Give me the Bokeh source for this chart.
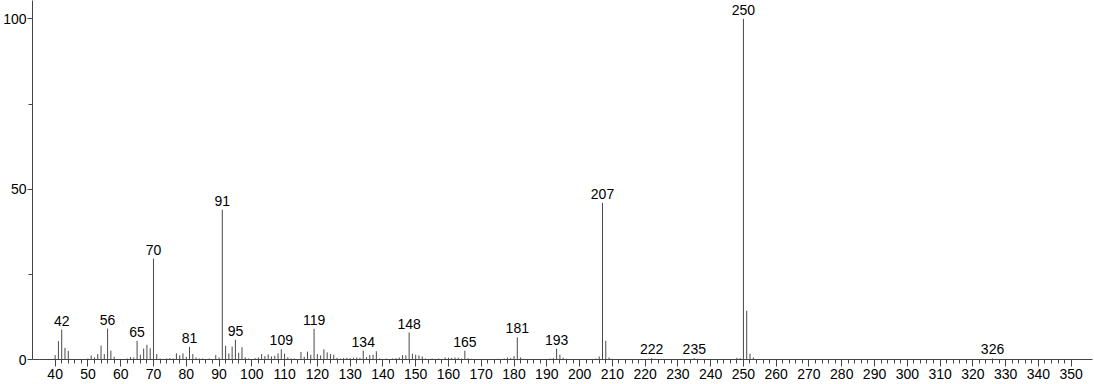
from bokeh.plotting import figure
from bokeh.models import Range1d, FixedTicker, ColumnDataSource
from bokeh.core.properties import value
from bokeh.embed import file_html
from bokeh.resources import INLINE

# m/z values and relative intensities
mz = [40, 41, 42, 43, 44, 50, 51, 52, 53, 54, 55, 56, 57, 58, 62, 63, 64, 65, 66, 67,
      68, 69, 70, 71, 72, 74, 75, 76, 77, 78, 79, 80, 81, 82, 83, 84, 85, 87, 89, 90,
      91, 92, 93, 94, 95, 96, 97, 98, 99, 101, 102, 103, 104, 105, 106, 107, 108, 109, 110, 111,
      112, 113, 115, 116, 117, 118, 119, 120, 121, 122, 123, 124, 125, 126, 127, 128, 129, 130, 131, 132,
      133, 134, 135, 136, 137, 138, 139, 141, 143, 144, 145, 146, 147, 148, 149, 150, 151, 152, 153, 155,
      157, 159, 160, 161, 162, 163, 164, 165, 166, 167, 175, 177, 178, 179, 180, 181, 182, 183, 191, 192,
      193, 194, 195, 196, 205, 206, 207, 208, 209, 210, 221, 222, 223, 235, 236, 248, 249, 250, 251, 252,
      253, 326]
intensity = [1.3, 5.4, 8.8, 3.4, 2.5, 0.3, 1.2, 0.6, 1.6, 4.1, 1.6, 9.1, 2.6, 0.8, 0.3, 0.7, 0.6, 5.5, 1.4, 3.2,
             4.3, 3.3, 29.6, 1.6, 0.3, 0.3, 0.4, 0.3, 1.8, 1.2, 1.8, 0.8, 3.7, 1.6, 0.6, 0.3, 0.3, 0.3, 1.3, 0.6,
             44.0, 4.0, 1.8, 3.8, 5.8, 2.0, 3.6, 0.6, 0.3, 0.4, 0.6, 1.6, 1.0, 1.5, 0.9, 1.1, 1.8, 3.0, 1.7, 0.7,
             0.3, 0.3, 2.2, 0.8, 2.3, 1.4, 9.0, 1.6, 1.2, 3.0, 2.1, 1.6, 1.4, 0.5, 0.3, 0.4, 0.5, 0.4, 0.5, 0.6,
             0.5, 2.6, 0.7, 1.3, 1.4, 2.4, 0.3, 0.3, 0.3, 0.4, 0.6, 1.3, 1.2, 7.9, 1.7, 1.4, 1.2, 0.9, 0.3, 0.3,
             0.3, 0.6, 0.5, 0.5, 0.6, 0.5, 0.3, 2.6, 0.4, 0.2, 0.2, 0.3, 0.6, 0.4, 1.0, 6.5, 0.6, 0.2, 0.3, 0.4,
             3.2, 1.4, 0.5, 0.2, 0.3, 0.9, 46.0, 5.5, 0.6, 0.2, 0.2, 0.4, 0.2, 0.4, 0.2, 0.5, 0.4, 100.0, 14.3, 1.7,
             0.6, 0.3]

# peaks annotated with their m/z
labeled_mz = [42, 56, 65, 70, 81, 91, 95, 109, 119, 134, 148, 165, 181, 193, 207, 222, 235, 250, 326]

x_major_ticks = list(range(40, 351, 10))
x_minor_ticks = list(range(40, 351, 2))
y_major_ticks = [0, 50, 100]
y_minor_ticks = [25, 75]

lookup = dict(zip(mz, intensity))
peaks = ColumnDataSource(dict(x=mz, y0=[0] * len(mz), y1=intensity))
labels = ColumnDataSource(dict(x=labeled_mz,
                               y=[lookup[m] for m in labeled_mz],
                               t=[str(m) for m in labeled_mz]))

p = figure(width=1094, height=384, output_backend="svg", toolbar_location=None,
           x_range=Range1d(33.09, 356.5), y_range=Range1d(0, 105.4),
           min_border_left=30, min_border_right=2, min_border_top=0, min_border_bottom=25)
p.outline_line_color = None
p.xgrid.visible = False
p.ygrid.visible = False
p.background_fill_color = "white"
p.border_fill_color = "white"

p.segment(x0="x", y0="y0", x1="x", y1="y1", source=peaks, line_color="#4a4a4a", line_width=1)
p.text(x="x", y="y", text="t", source=labels, text_align="center", text_baseline="bottom",
       text_font=value("Liberation Sans"), text_font_size="14px", text_color="black", y_offset=-4)

for ax in (p.xaxis[0], p.yaxis[0]):
    ax.axis_line_color = "#444444"
    ax.major_tick_line_color = "#444444"
    ax.minor_tick_line_color = "#444444"
    ax.major_label_text_font = "Liberation Sans"
    ax.major_label_text_font_size = "14px"
    ax.major_label_text_color = "black"
    ax.major_tick_in = 0
    ax.minor_tick_in = 0

p.xaxis.ticker = FixedTicker(ticks=x_major_ticks, minor_ticks=x_minor_ticks)
p.xaxis.major_tick_out = 7
p.xaxis.minor_tick_out = 4
p.xaxis.major_label_standoff = 2

p.yaxis.ticker = FixedTicker(ticks=y_major_ticks, minor_ticks=y_minor_ticks)
p.yaxis.major_tick_out = 5
p.yaxis.minor_tick_out = 4
p.yaxis.major_label_standoff = 1

open("out.html", "w").write(file_html(p, INLINE))
